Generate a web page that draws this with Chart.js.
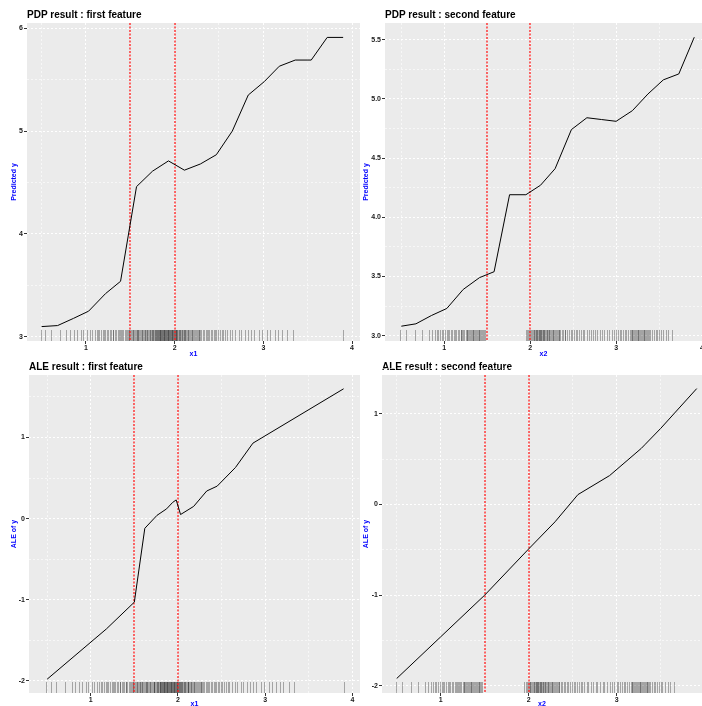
<!DOCTYPE html>
<html>
<head>
<meta charset="utf-8">
<script src="https://cdn.jsdelivr.net/npm/chart.js@4/dist/chart.umd.min.js"></script>
<style>
  html, body { margin: 0; padding: 0; background: #fff; overflow: hidden; width: 702px; height: 706px; }
  canvas { position: absolute; }
</style>
</head>
<body>
<canvas id="pdp1" width="362" height="358" style="left:0;top:0"></canvas>
<canvas id="pdp2" width="343" height="358" style="left:362px;top:0"></canvas>
<canvas id="ale1" width="362" height="350" style="left:0;top:358px"></canvas>
<canvas id="ale2" width="343" height="350" style="left:362px;top:358px"></canvas>
<script>
  // PDP curves
  const PDP1_X = [0.50, 0.68, 0.86, 1.03, 1.22, 1.39, 1.57, 1.75, 1.93, 2.11, 2.29, 2.47, 2.65, 2.83, 3.01, 3.18, 3.36, 3.54, 3.72, 3.90];
  const PDP1_Y = [3.10, 3.11, 3.18, 3.25, 3.42, 3.54, 4.46, 4.61, 4.71, 4.62, 4.68, 4.77, 5.00, 5.35, 5.48, 5.63, 5.69, 5.69, 5.91, 5.91];
  const PDP2_X = [0.50, 0.67, 0.85, 1.03, 1.22, 1.41, 1.58, 1.76, 1.95, 2.12, 2.29, 2.48, 2.66, 2.83, 3.00, 3.19, 3.37, 3.55, 3.73, 3.91];
  const PDP2_Y = [3.08, 3.10, 3.17, 3.23, 3.39, 3.49, 3.54, 4.19, 4.19, 4.27, 4.41, 4.74, 4.84, 4.825, 4.81, 4.90, 5.04, 5.16, 5.21, 5.52];

  // ALE curves
  const ALE1_X = [0.50, 1.18, 1.50, 1.62, 1.76, 1.87, 1.94, 1.98, 2.03, 2.18, 2.33, 2.45, 2.66, 2.86, 3.90];
  const ALE1_Y = [-1.98, -1.36, -1.03, -0.12, 0.04, 0.12, 0.20, 0.23, 0.05, 0.15, 0.34, 0.40, 0.63, 0.93, 1.60];
  const ALE2_X = [0.50, 1.00, 1.50, 2.00, 2.30, 2.56, 2.92, 3.28, 3.32, 3.50, 3.91];
  const ALE2_Y = [-1.92, -1.46, -1.00, -0.49, -0.19, 0.11, 0.32, 0.62, 0.66, 0.84, 1.28];

  const RUG_X1 = [
    0.49, 0.54, 0.60, 0.71, 0.78, 0.82, 0.86, 0.90, 0.94, 0.97, 1.01, 1.04, 1.07,
    1.10, 1.12, 1.13, 1.15, 1.17, 1.19, 1.20, 1.22, 1.24, 1.25, 1.27, 1.28, 1.30, 1.31, 1.33, 1.34,
    1.36, 1.37, 1.38, 1.40, 1.41, 1.42, 1.44, 1.45, 1.46, 1.47, 1.48, 1.49,
    1.50, 1.51, 1.52, 1.53, 1.535, 1.54, 1.55, 1.56, 1.57, 1.58, 1.585, 1.59, 1.60, 1.61, 1.62, 1.63,
    1.635, 1.64, 1.65, 1.66, 1.67, 1.68, 1.685, 1.69, 1.70, 1.71, 1.72, 1.725, 1.73, 1.74, 1.75,
    1.755, 1.76, 1.77, 1.775, 1.78, 1.79, 1.795, 1.80, 1.805, 1.81, 1.815, 1.82, 1.825, 1.83,
    1.835, 1.84, 1.845, 1.85, 1.855, 1.86, 1.865, 1.87, 1.875, 1.88, 1.885, 1.89, 1.895, 1.90,
    1.905, 1.91, 1.915, 1.92, 1.925, 1.93, 1.935, 1.94, 1.945, 1.95, 1.955, 1.96, 1.965, 1.97,
    1.975, 1.98, 1.985, 1.99, 1.995, 2.00, 2.005, 2.01, 2.015, 2.02, 2.025, 2.03, 2.04, 2.045,
    2.05, 2.06, 2.065, 2.07, 2.08, 2.085, 2.09, 2.10, 2.11, 2.115, 2.12, 2.13, 2.14, 2.145, 2.15,
    2.16, 2.17, 2.18, 2.19, 2.20, 2.21, 2.22, 2.23, 2.24, 2.25, 2.26, 2.27, 2.28, 2.29, 2.30,
    2.32, 2.33, 2.35, 2.36, 2.38, 2.39, 2.41, 2.42, 2.44, 2.46, 2.47, 2.49, 2.51, 2.53, 2.55, 2.57, 2.59,
    2.62, 2.65, 2.68, 2.72, 2.75, 2.79, 2.83, 2.86, 2.90, 2.95, 2.99, 3.04, 3.08, 3.13, 3.17, 3.21,
    3.27, 3.33, 3.90];
  const RUG_X2 = [
    0.49, 0.56, 0.66, 0.74, 0.82, 0.86, 0.89, 0.91, 0.93, 0.95, 0.97, 0.99, 1.01, 1.03, 1.04, 1.06,
    1.08, 1.09, 1.11, 1.13, 1.14, 1.16, 1.17, 1.19, 1.20, 1.21, 1.22, 1.235, 1.25, 1.26, 1.27, 1.28,
    1.29, 1.30, 1.31, 1.32, 1.33, 1.34, 1.35, 1.36, 1.37, 1.38, 1.39, 1.40, 1.41, 1.42, 1.43, 1.44,
    1.45, 1.46, 1.47,
    1.95, 1.965, 1.98, 1.99, 2.00, 2.01, 2.02, 2.03, 2.04, 2.05, 2.06, 2.065, 2.07, 2.08, 2.085, 2.09,
    2.10, 2.105, 2.11, 2.12, 2.125, 2.13, 2.14, 2.145, 2.15, 2.16, 2.165, 2.17, 2.18, 2.19, 2.20,
    2.21, 2.215, 2.22, 2.23, 2.24, 2.25, 2.26, 2.27, 2.28, 2.29, 2.30, 2.31, 2.32, 2.33, 2.34, 2.35,
    2.37, 2.38, 2.40, 2.41, 2.43, 2.45, 2.47, 2.49, 2.51, 2.53, 2.55, 2.57, 2.59, 2.61, 2.63, 2.66,
    2.68, 2.71, 2.73, 2.76, 2.78, 2.81, 2.84, 2.86, 2.89, 2.92, 2.95, 2.97, 3.00, 3.02, 3.04, 3.06,
    3.08, 3.10, 3.12, 3.14, 3.16, 3.17, 3.18, 3.19, 3.20, 3.21, 3.22, 3.23, 3.24, 3.25, 3.26, 3.27,
    3.28, 3.29, 3.30, 3.31, 3.32, 3.33, 3.34, 3.35, 3.36, 3.37, 3.38, 3.40, 3.42, 3.44, 3.46, 3.48,
    3.50, 3.52, 3.55, 3.58, 3.61, 3.65];

  // red dotted cut points
  const CUTS = [1.5, 2];

  // tick values
  const X_MAJOR = [1, 2, 3, 4];
  const X_MINOR = [0.5, 1.5, 2.5, 3.5];
  const PDP1_Y_MAJOR = [3, 4, 5, 6];
  const PDP1_Y_MINOR = [3.5, 4.5, 5.5];
  const PDP2_Y_MAJOR = [3.0, 3.5, 4.0, 4.5, 5.0, 5.5];
  const PDP2_Y_MINOR = [3.25, 3.75, 4.25, 4.75, 5.25];
  const ALE_Y_MAJOR = [-2, -1, 0, 1];
  const ALE_Y_MINOR = [-1.5, -0.5, 0.5, 1.5];

  const FONT = "'Liberation Sans', Arial, sans-serif";

  // ggplot-like panel: grey background, title, rug and cut lines
  function ggPanel(title, rug) {
    return {
      id: "ggPanel",
      beforeDraw(chart) {
        const { ctx, chartArea: a } = chart;
        ctx.save();
        ctx.fillStyle = "#ebebeb";
        ctx.fillRect(a.left, a.top, a.right - a.left, a.bottom - a.top);
        ctx.fillStyle = "#000";
        ctx.font = "bold 10px " + FONT;
        ctx.textBaseline = "alphabetic";
        ctx.textAlign = "left";
        ctx.fillText(title, a.left, a.top - 5);
        ctx.restore();
      },
      beforeDatasetsDraw(chart) {
        const { ctx, chartArea: a, scales: { x } } = chart;
        ctx.save();
        ctx.beginPath();
        ctx.rect(a.left, a.top, a.right - a.left, a.bottom - a.top);
        ctx.clip();
        ctx.lineWidth = 1;
        ctx.strokeStyle = "rgba(0,0,0,0.3)";
        rug.forEach((v) => {
          const px = Math.round(x.getPixelForValue(v)) + 0.5;
          ctx.beginPath();
          ctx.moveTo(px, a.bottom);
          ctx.lineTo(px, a.bottom - 11);
          ctx.stroke();
        });
        // dotted red vlines, a touch wider so they keep their colour
        ctx.strokeStyle = "#ff1a1a";
        ctx.lineWidth = 1.3;
        ctx.setLineDash([2, 1.5]);
        CUTS.forEach((v) => {
          const px = Math.round(x.getPixelForValue(v));
          ctx.beginPath();
          ctx.moveTo(px, a.top);
          ctx.lineTo(px, a.bottom);
          ctx.stroke();
        });
        ctx.restore();
      },
    };
  }

  function axis(min, max, major, minor, title, size, fmt, horizontal) {
    const all = [...major, ...minor].sort((a, b) => a - b);
    const isMajor = (c) => c.tick && major.includes(c.tick.value);
    return {
      type: "linear",
      min, max,
      afterBuildTicks: (ax) => { ax.ticks = all.map((v) => ({ value: v })); },
      afterFit: (ax) => { if (horizontal) ax.height = size; else ax.width = size; },
      border: { display: false, dash: [2, 2] },
      grid: {
        color: "#ffffff",
        lineWidth: (c) => (isMajor(c) ? 1 : 0.6),
        tickColor: (c) => (isMajor(c) ? "#333" : "rgba(0,0,0,0)"),
        tickLength: 3,
      },
      ticks: {
        autoSkip: false,
        maxRotation: 0,
        padding: horizontal ? 0 : 1,
        color: "#1a1a1a",
        font: { family: FONT, size: 7, weight: "bold" },
        callback: (v) => (major.includes(v) ? fmt(v) : ""),
      },
      title: {
        display: true,
        text: title,
        color: "#0000ff",
        font: { family: FONT, size: 7, weight: "bold" },
        padding: 0,
      },
    };
  }

  const plain = (v) => String(v);
  const oneDec = (v) => v.toFixed(1);

  function panel(id, p) {
    new Chart(document.getElementById(id), {
      type: "line",
      data: {
        datasets: [{
          data: p.xs.map((x, i) => ({ x, y: p.ys[i] })),
          borderColor: "#000",
          borderWidth: 1,
          pointRadius: 0,
          tension: 0,
          fill: false,
        }],
      },
      options: {
        responsive: false,
        animation: false,
        layout: { padding: p.pad },
        plugins: { legend: { display: false }, tooltip: { enabled: false } },
        scales: {
          x: axis(p.xr[0], p.xr[1], p.xMajor, X_MINOR, p.xTitle, p.xSize, plain, true),
          y: axis(p.yr[0], p.yr[1], p.yMajor, p.yMinor, p.yTitle, p.ySize, p.yFmt, false),
        },
      },
      plugins: [ggPanel(p.title, p.rug)],
    });
  }

  panel("pdp1", {
    title: "PDP result : first feature", xs: PDP1_X, ys: PDP1_Y, rug: RUG_X1,
    xr: [0.335, 4.09], yr: [2.96, 6.05], xMajor: X_MAJOR, yMajor: PDP1_Y_MAJOR, yMinor: PDP1_Y_MINOR,
    xTitle: "x1", yTitle: "Predicted y", yFmt: plain,
    pad: { left: 10, top: 23, right: 2, bottom: 0 }, xSize: 17, ySize: 17,
  });
  panel("pdp2", {
    title: "PDP result : second feature", xs: PDP2_X, ys: PDP2_Y, rug: RUG_X2,
    xr: [0.31, 4.0], yr: [2.955, 5.64], xMajor: X_MAJOR, yMajor: PDP2_Y_MAJOR, yMinor: PDP2_Y_MINOR,
    xTitle: "x2", yTitle: "Predicted y", yFmt: oneDec,
    pad: { left: 0, top: 23, right: 3, bottom: 0 }, xSize: 17, ySize: 23,
  });
  panel("ale1", {
    title: "ALE result : first feature", xs: ALE1_X, ys: ALE1_Y, rug: RUG_X1,
    xr: [0.292, 4.088], yr: [-2.15, 1.77], xMajor: X_MAJOR, yMajor: ALE_Y_MAJOR, yMinor: ALE_Y_MINOR,
    xTitle: "x1", yTitle: "ALE of y", yFmt: plain,
    pad: { left: 10, top: 17, right: 2, bottom: 0 }, xSize: 15, ySize: 19,
  });
  panel("ale2", {
    title: "ALE result : second feature", xs: ALE2_X, ys: ALE2_Y, rug: RUG_X2,
    xr: [0.333, 3.97], yr: [-2.08, 1.43], xMajor: [1, 2, 3], yMajor: ALE_Y_MAJOR, yMinor: ALE_Y_MINOR,
    xTitle: "x2", yTitle: "ALE of y", yFmt: plain,
    pad: { left: 0, top: 17, right: 3, bottom: 0 }, xSize: 15, ySize: 20,
  });
</script>
</body>
</html>
